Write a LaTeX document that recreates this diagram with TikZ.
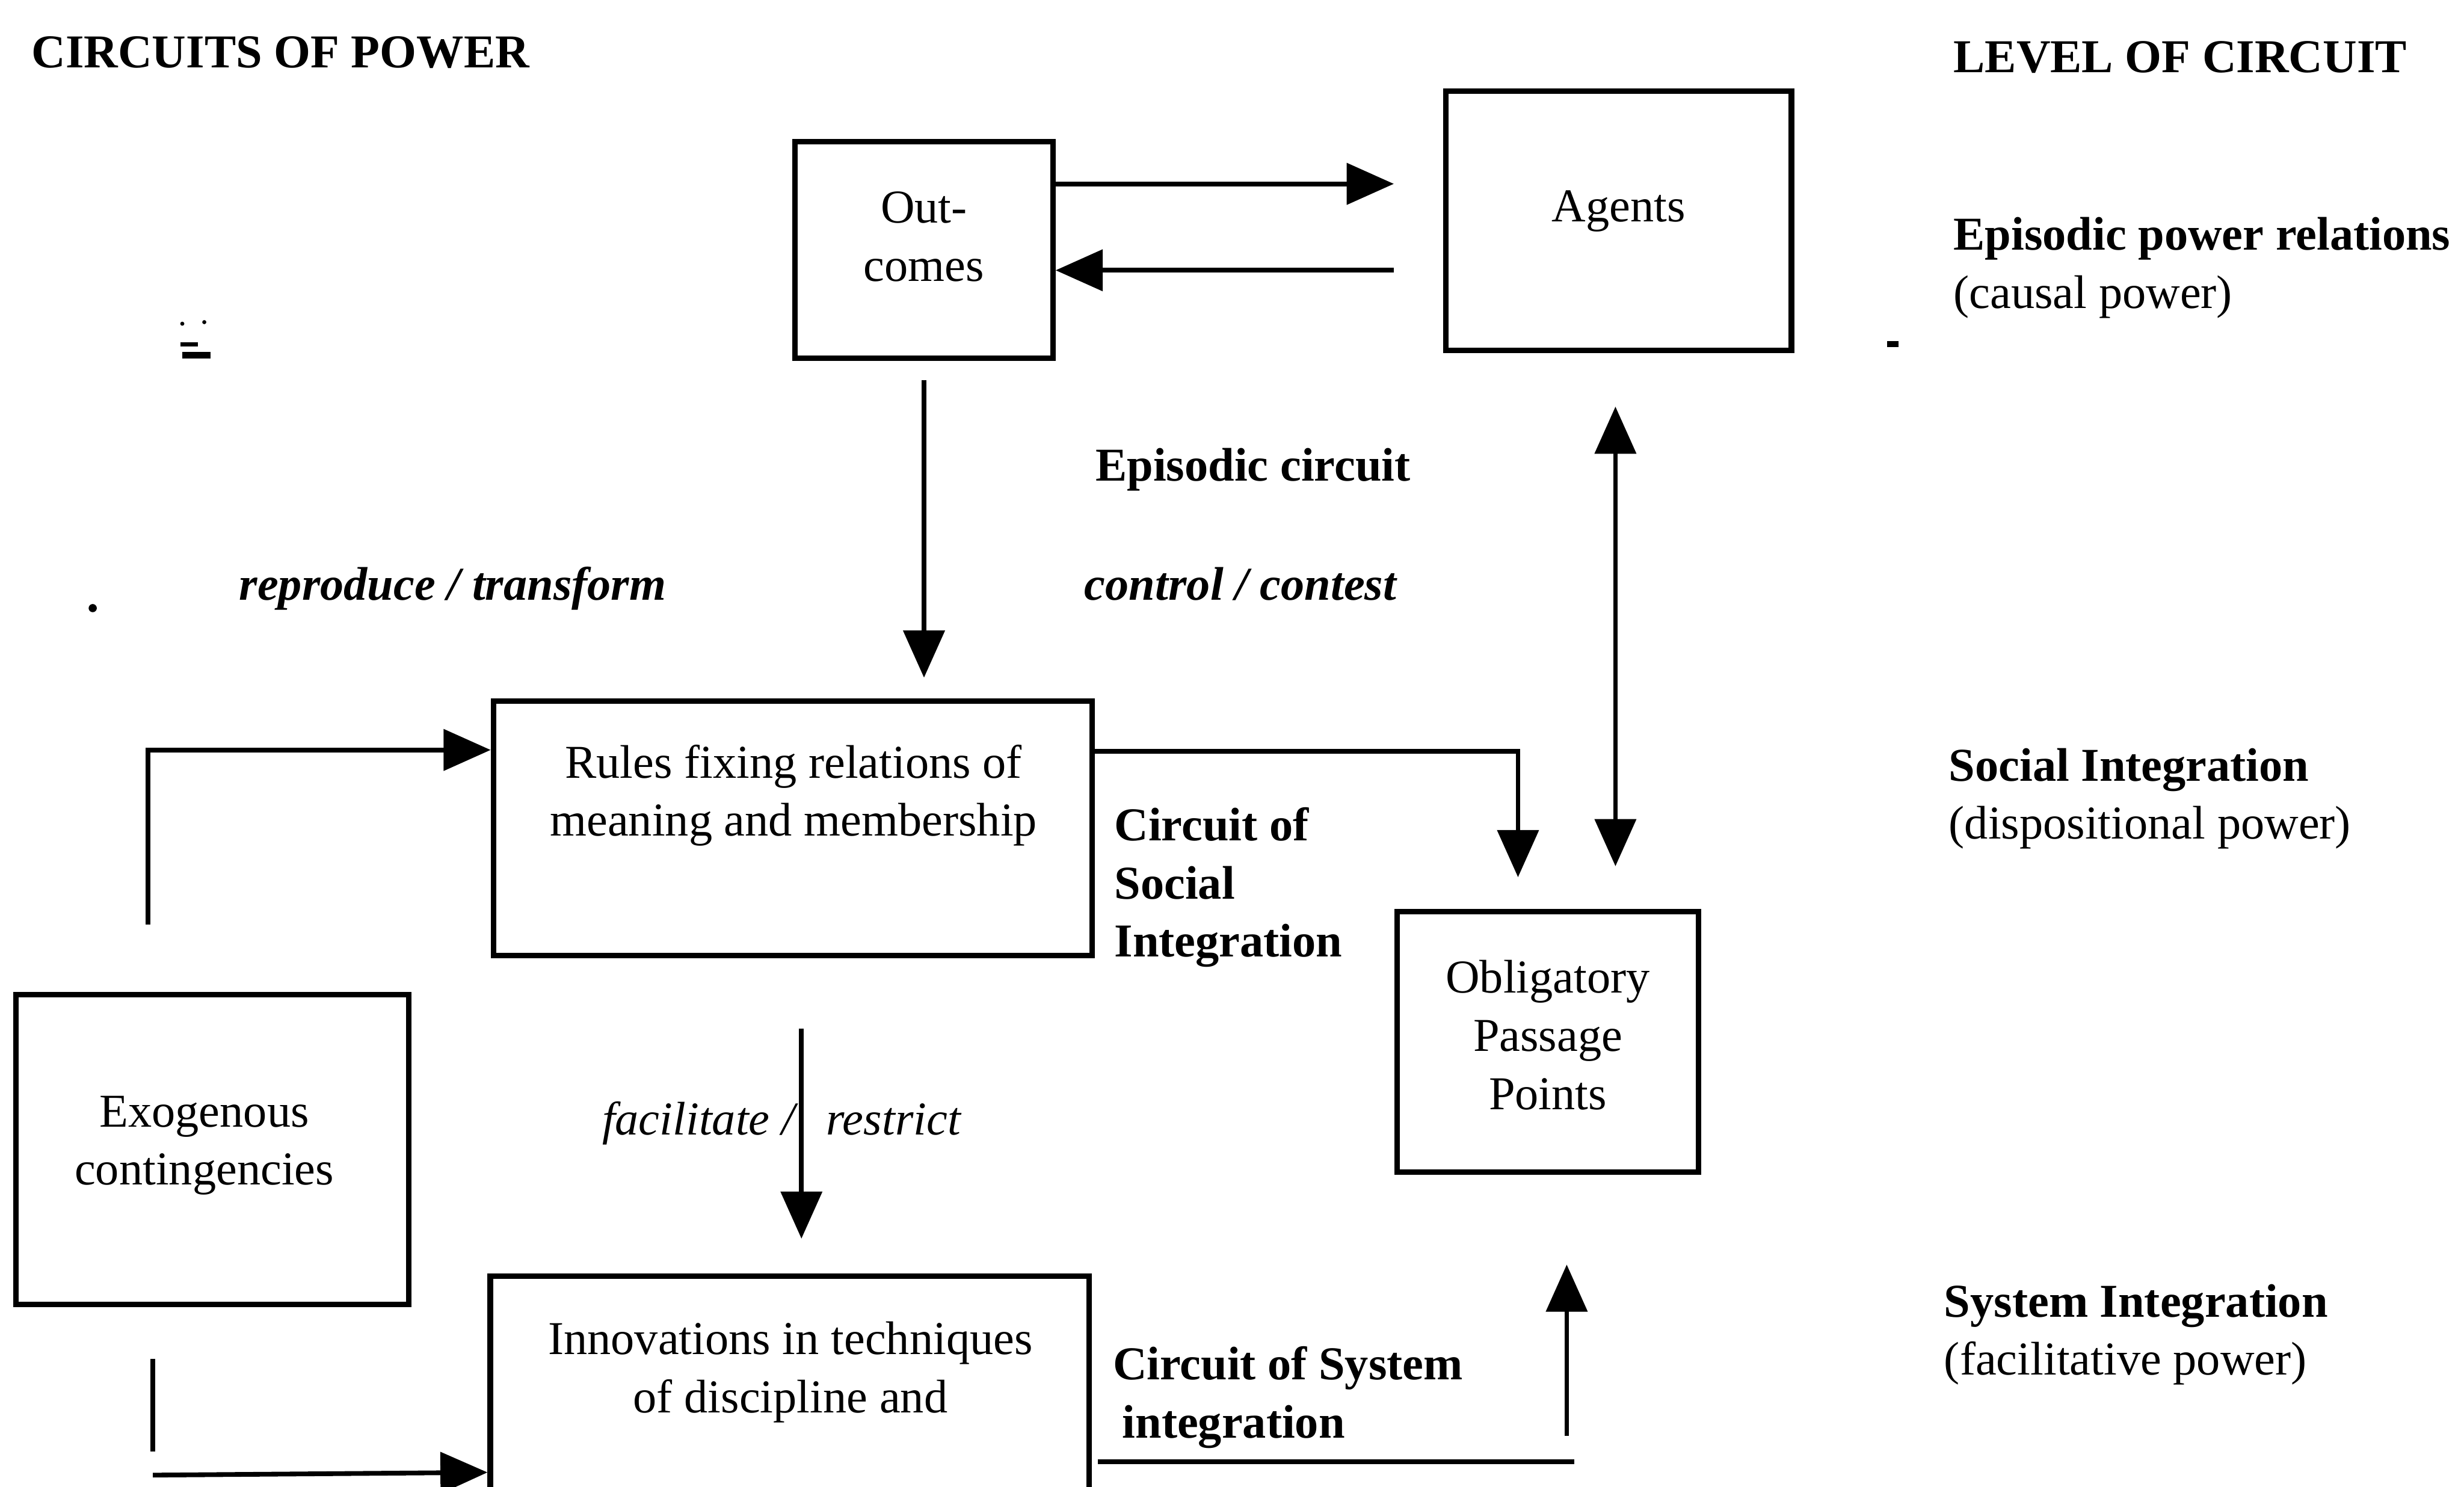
\documentclass[tikz,border=0pt]{standalone}
\usepackage{fontspec}
\setmainfont{Liberation Serif}
\usetikzlibrary{arrows.meta,calc}
\begin{document}
\begin{tikzpicture}[x=1pt,y=-1pt,
  box/.style={draw, line width=3.5pt, inner sep=0pt},
  txt/.style={font=\fontsize{30pt}{37pt}\selectfont, inner sep=0pt, align=center, anchor=base},
  ltxt/.style={txt, align=left, anchor=base west},
  btxt/.style={ltxt, font=\fontsize{30pt}{37pt}\selectfont\bfseries},
  itxt/.style={ltxt, font=\fontsize{30pt}{37pt}\selectfont\itshape},
  bitxt/.style={ltxt, font=\fontsize{30pt}{37pt}\selectfont\bfseries\itshape},
  link/.style={line width=3pt},
  arr/.style={link, -{Triangle[length=30pt,width=26pt]}},
  dbl/.style={link, {Triangle[length=30pt,width=26pt]}-{Triangle[length=30pt,width=26pt]}},
  speck/.style={fill=black, draw=none}]

\useasboundingbox (0,0) rectangle (1568,946);
\clip (0,0) rectangle (1568,946);

% ---- column headings
\node[btxt] (head-l) at (20,43) {CIRCUITS OF POWER};
\node[btxt] (head-r) at (1243,46) {LEVEL OF CIRCUIT};

% ---- boxes
\node[box, minimum width=164pt, minimum height=138pt] (outcomes) at (588,159) {};
\node[box, minimum width=220pt, minimum height=165pt] (agents)   at (1030,140.5) {};
\node[box, minimum width=381pt, minimum height=162pt] (rules)    at (504.5,527) {};
\node[box, minimum width=192pt, minimum height=166pt] (opp)      at (985,663) {};
\node[box, minimum width=250pt, minimum height=197pt] (exo)      at (135,731.5) {};
\node[box, minimum width=381pt, minimum height=188pt] (innov)    at (502.5,906) {};

% ---- box texts (multi-line nodes sit on the baseline of their last line)
\node[txt] (outcomes-t) at (588,179)  {Out-\\comes};
\node[txt] (agents-t)   at (1030,141) {Agents};
\node[txt] (rules-t)    at (505,532)  {Rules fixing relations of\\meaning and membership};
\node[txt] (opp-t)      at (985,706)  {Obligatory\\Passage\\Points};
\node[txt] (exo-t)      at (130,754)  {Exogenous\\contingencies};
\node[txt] (innov-t)    at (503,899)  {Innovations in techniques\\of discipline and};

% ---- circuit labels
\node[btxt]  (ep-c)   at (697,306) {Episodic circuit};
\node[bitxt] (repro)  at (152,382) {reproduce / transform};
\node[bitxt] (ctrl)   at (690,382) {control / contest};
\node[btxt]  (soc-c)  at (709,609) {Circuit of\\Social\\Integration};
\node[itxt]  (facil)  at (383,722) {facilitate /\hspace{20pt}restrict};
\node[btxt]  (sys-c)  at (708,915) {Circuit of System\\\hspace{6pt}integration};

% ---- levels
\node[ltxt] (lvl-ep)  at (1243,196) {\textbf{Episodic power relations}\\(causal power)};
\node[ltxt] (lvl-soc) at (1240,534) {\textbf{Social Integration}\\(dispositional power)};
\node[ltxt] (lvl-sys) at (1237,875) {\textbf{System Integration}\\(facilitative power)};

% ---- free connector ends
\coordinate (ag-in)   at (887,117);
\coordinate (ag-out)  at (887,172);
\coordinate (sys-l)   at ($(innov.north east)+(4,120)$);
\coordinate (sys-r)   at ($(innov.north east)+(307,120)$);

% ---- episodic circuit
\draw[arr] (outcomes.east |- ag-in) -- (ag-in);
\draw[arr] (ag-out) -- (outcomes.east |- ag-out);
\draw[arr] ($(outcomes.south)+(0,12)$) -- ($(outcomes.south |- rules.north)+(0,-13)$);
\draw[dbl] ($(agents.south)+(-2,34)$) -- ($(agents.south |- opp.north)+(-2,-27)$);

% ---- social integration
\draw[arr] ($(rules.north east)+(0,34)$) -| ($(opp.north)+(-19,-20)$);
\draw[arr] ($(exo.north west)+(86,-43)$) |- ($(rules.north west)+(0,33)$);
\draw[arr] ($(rules.south)+(5.5,45)$) -- ($(innov.north)+(7.5,-22)$);

% ---- system integration
\draw[link] ($(exo.south west)+(89,33)$) -- ++(0,59);
\draw[arr]  ($(exo.south west)+(89,107)$) -- (innov.west |- 0,937);
\draw[arr]  ($(opp.south)+(12,166)$) -- ($(opp.south)+(12,57)$);
\draw[link] (sys-l) -- (sys-r);

% ---- specks
\fill[speck] (59,387) circle (2.6);
\fill[speck] (1201,217) rectangle (1208,221);
\fill[speck] (116,206) circle (1.3);
\fill[speck] (130,205) circle (1.3);
\fill[speck] (115,218) rectangle (126,220.5);
\fill[speck] (116,224) rectangle (134,228);
\end{tikzpicture}
\end{document}
